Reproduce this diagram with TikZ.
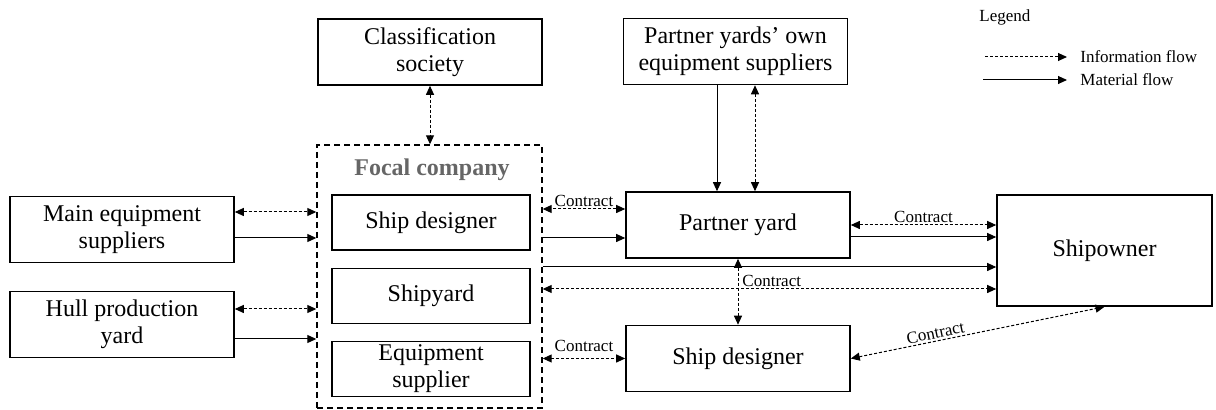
\documentclass[tikz,border=0pt]{standalone}
\usepackage{fontspec}
\setmainfont{Liberation Serif}
\usetikzlibrary{arrows.meta}

\begin{document}
\begin{tikzpicture}[
    x=0.5pt, y=-0.5pt,
    >={Triangle[length=4.5pt,width=4pt]},
    orgbox/.style={draw, line width=0.8pt, minimum width=112pt, minimum height=33pt,
      align=center, inner sep=1pt, font=\fontsize{12}{13.5}\selectfont},
    unitbox/.style={orgbox, minimum width=99pt, minimum height=27.5pt},
    focalbox/.style={draw, line width=0.7pt, dash pattern=on 3pt off 2pt,
      minimum width=112.5pt, minimum height=131.5pt},
    infoflow/.style={line width=0.5pt, dash pattern=on 1.5pt off 1pt, <->},
    matflow/.style={line width=0.5pt, ->},
    ctrlbl/.style={font=\fontsize{8.5}{10}\selectfont, inner sep=1pt},
    legendlbl/.style={font=\fontsize{8.5}{10}\selectfont, anchor=west, inner sep=0pt}
  ]
  \useasboundingbox (0,0) rectangle (1216,410);
  % actors
  \node[orgbox] (cls) at (430,52) {Classification\\society};
  \node[orgbox] (pyes) at (735.5,51.5) {Partner yards’ own\\equipment suppliers};
  \node[orgbox] (mes) at (122,229.5) {Main equipment\\suppliers};
  \node[orgbox] (hpy) at (122,324.5) {Hull production\\yard};
  \node[orgbox] (py) at (738,225) {Partner yard};
  \node[orgbox] (sd) at (738,358.5) {Ship designer};
  \node[orgbox, minimum width=107.5pt, minimum height=55.5pt] (sho) at (1104.5,250.5) {Shipowner};
  % focal company
  \node[focalbox] (focal) at (429.5,276.5) {};
  \node[font=\bfseries\fontsize{12}{14}\selectfont, text=black!60] (focallbl) at (432,170) {Focal company};
  \foreach \name/\y/\txt in {fsd/222.5/Ship designer, fsy/296/Shipyard, feq/369/Equipment\\supplier}{
    \node[unitbox] (\name) at (431,\y) {\txt};
  }
  % flows
  \draw[infoflow] (cls.south) -- (cls.south |- focal.north);
  \draw[matflow] ([xshift=-9.25pt]pyes.south) coordinate (p1) -- (p1 |- py.north);
  \draw[infoflow] ([xshift=9.75pt]pyes.south) coordinate (p2) -- (p2 |- py.north);
  \draw[infoflow] ([yshift=8.75pt]mes.east) coordinate (m1) -- (m1 -| focal.west);
  \draw[matflow] ([yshift=-4.25pt]mes.east) coordinate (m2) -- (m2 -| focal.west);
  \draw[infoflow] ([yshift=7.75pt]hpy.east) coordinate (h1) -- (h1 -| focal.west);
  \draw[matflow] ([yshift=-7.25pt]hpy.east) coordinate (h2) -- (h2 -| focal.west);
  \draw[infoflow] ([yshift=8pt]py.west) coordinate (f1) -- (f1 -| focal.east)
    node[ctrlbl, midway, above] {Contract};
  \path ([yshift=-6.5pt]py.west) coordinate (f2);
  \draw[matflow] (f2 -| focal.east) -- (f2);
  \draw[infoflow] (py.east) -- (py.east -| sho.west) node[ctrlbl, midway, above] {Contract};
  \draw[matflow] ([yshift=-6pt]py.east) coordinate (s2) -- (s2 -| sho.west);
  \draw[matflow] ([yshift=4.75pt]focal.east) coordinate (o1) -- (o1 -| sho.west);
  \draw[infoflow] ([yshift=-6.25pt]focal.east) coordinate (o2) -- (o2 -| sho.west)
    node[ctrlbl, pos=0.435, anchor=south west] {Contract};
  \draw[infoflow] (py.south) -- (sd.north);
  \draw[infoflow] (sd.west -| focal.east) -- (sd.west) node[ctrlbl, midway, above=2pt] {Contract};
  \draw[infoflow] (sd.east) -- (sho.south) node[ctrlbl, pos=0.34, sloped, above] {Contract};
  % legend
  \node[legendlbl] (lgd) at (979,17) {Legend};
  \node[legendlbl] (linfo) at (1080,57) {Information flow};
  \node[legendlbl] (lmat) at (1080,80) {Material flow};
  \coordinate (li0) at (985,57);
  \coordinate (lm0) at (983,80);
  \draw[infoflow, ->] (li0) -- ([xshift=-6.5pt]linfo.west);
  \draw[matflow] (lm0) -- ([xshift=-6.5pt]lmat.west);
\end{tikzpicture}
\end{document}
